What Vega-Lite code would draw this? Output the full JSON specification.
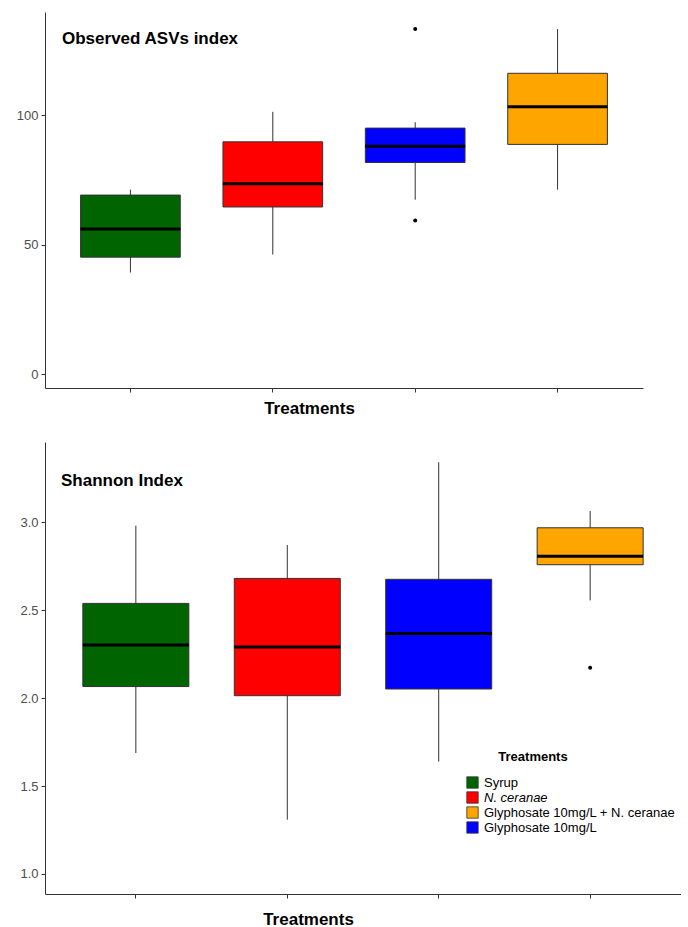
{
  "$schema": "https://vega.github.io/schema/vega-lite/v6.json",
  "padding": {"left": 16, "top": 12, "right": 0, "bottom": 0},
  "background": "white",
  "spacing": 26,
  "config": {
    "view": {"stroke": null},
    "font": "Liberation Sans",
    "axis": {
      "grid": false,
      "domainColor": "#333333",
      "tickColor": "#333333",
      "labelColor": "#4d4d4d",
      "labelFontSize": 13,
      "labelFont": "Liberation Sans",
      "tickSize": 4,
      "labelPadding": 3,
      "titleFont": "Liberation Sans",
      "titleFontSize": 17,
      "titleFontWeight": "bold",
      "titleColor": "#000000"
    }
  },
  "datasets": {
    "asv": [
      {"treatment": "Syrup", "lower": 39.3, "q1": 45.2, "median": 56.1, "q3": 69.2, "upper": 71.3},
      {"treatment": "N. ceranae", "lower": 46.2, "q1": 64.6, "median": 73.6, "q3": 89.8, "upper": 101.4},
      {"treatment": "Glyphosate 10mg/L", "lower": 67.4, "q1": 81.8, "median": 88.1, "q3": 95.1, "upper": 97.4},
      {"treatment": "Glyphosate 10mg/L + N. ceranae", "lower": 71.3, "q1": 88.8, "median": 103.4, "q3": 116.3, "upper": 133.4}
    ],
    "asvOut": [
      {"treatment": "Glyphosate 10mg/L", "value": 133.4},
      {"treatment": "Glyphosate 10mg/L", "value": 59.4}
    ],
    "shannon": [
      {"treatment": "Syrup", "lower": 1.688, "q1": 2.066, "median": 2.302, "q3": 2.539, "upper": 2.981},
      {"treatment": "N. ceranae", "lower": 1.309, "q1": 2.014, "median": 2.291, "q3": 2.681, "upper": 2.871},
      {"treatment": "Glyphosate 10mg/L", "lower": 1.639, "q1": 2.052, "median": 2.368, "q3": 2.676, "upper": 3.342},
      {"treatment": "Glyphosate 10mg/L + N. ceranae", "lower": 2.556, "q1": 2.759, "median": 2.807, "q3": 2.969, "upper": 3.065}
    ],
    "shannonOut": [
      {"treatment": "Glyphosate 10mg/L + N. ceranae", "value": 2.173}
    ]
  },
  "vconcat": [
    {
      "width": 598,
      "height": 376,
      "title": {"text": "Observed ASVs index", "anchor": "start", "frame": "group", "offset": -49, "baseline": "alphabetic", "dx": 17, "fontSize": 17, "fontWeight": "bold", "font": "Liberation Sans", "color": "#000000"},
      "layer": [
        {
          "data": {"name": "asv"},
          "mark": {"type": "rule", "color": "#333333", "strokeWidth": 1},
          "encoding": {
            "x": {"field": "treatment", "type": "nominal", "scale": {"type": "band", "paddingInner": 0.3, "paddingOuter": 0.25, "domain": ["Syrup", "N. ceranae", "Glyphosate 10mg/L", "Glyphosate 10mg/L + N. ceranae"]}, "axis": {"labels": false, "title": "Treatments", "titleX": 264, "titleY": 25, "titleAlign": "center", "titleBaseline": "alphabetic"}},
            "y": {"field": "lower", "type": "quantitative", "scale": {"domain": [-5.4, 140], "nice": false, "zero": false}, "axis": {"values": [0, 50, 100], "title": null}},
            "y2": {"field": "upper"}
          }
        },
        {
          "data": {"name": "asv"},
          "mark": {"type": "bar", "stroke": "#333333", "strokeWidth": 1, "opacity": 1},
          "encoding": {
            "x": {"field": "treatment", "type": "nominal"},
            "y": {"field": "q1", "type": "quantitative"},
            "y2": {"field": "q3"},
            "fill": {"field": "treatment", "type": "nominal", "scale": {"domain": ["Syrup", "N. ceranae", "Glyphosate 10mg/L + N. ceranae", "Glyphosate 10mg/L"], "range": ["#006400", "#FF0000", "#FFA500", "#0000FF"]}, "legend": null}
          }
        },
        {
          "data": {"name": "asv"},
          "mark": {"type": "tick", "color": "#000000", "thickness": 3, "size": 100, "opacity": 1},
          "encoding": {
            "x": {"field": "treatment", "type": "nominal"},
            "y": {"field": "median", "type": "quantitative"}
          }
        },
        {
          "data": {"name": "asvOut"},
          "mark": {"type": "circle", "color": "#000000", "size": 16, "opacity": 1},
          "encoding": {
            "x": {"field": "treatment", "type": "nominal"},
            "y": {"field": "value", "type": "quantitative"}
          }
        }
      ]
    },
    {
      "width": 636,
      "height": 452,
      "title": {"text": "Shannon Index", "anchor": "start", "frame": "group", "offset": -61, "baseline": "alphabetic", "dx": 16, "fontSize": 17, "fontWeight": "bold", "font": "Liberation Sans", "color": "#000000"},
      "layer": [
        {
          "data": {"name": "shannon"},
          "mark": {"type": "rule", "color": "#333333", "strokeWidth": 1},
          "encoding": {
            "x": {"field": "treatment", "type": "nominal", "scale": {"type": "band", "paddingInner": 0.3, "paddingOuter": 0.25, "domain": ["Syrup", "N. ceranae", "Glyphosate 10mg/L", "Glyphosate 10mg/L + N. ceranae"]}, "axis": {"labels": false, "title": "Treatments", "titleX": 263, "titleY": 30, "titleAlign": "center", "titleBaseline": "alphabetic"}},
            "y": {"field": "lower", "type": "quantitative", "scale": {"domain": [0.886, 3.457], "nice": false, "zero": false}, "axis": {"values": [1, 1.5, 2, 2.5, 3], "format": ".1f", "title": null}},
            "y2": {"field": "upper"}
          }
        },
        {
          "data": {"name": "shannon"},
          "mark": {"type": "bar", "stroke": "#333333", "strokeWidth": 1, "opacity": 1},
          "encoding": {
            "x": {"field": "treatment", "type": "nominal"},
            "y": {"field": "q1", "type": "quantitative"},
            "y2": {"field": "q3"},
            "fill": {
              "field": "treatment", "type": "nominal",
              "scale": {"domain": ["Syrup", "N. ceranae", "Glyphosate 10mg/L + N. ceranae", "Glyphosate 10mg/L"], "range": ["#006400", "#FF0000", "#FFA500", "#0000FF"]},
              "legend": {
                "orient": "none", "legendX": 421, "legendY": 309,
                "title": "Treatments", "titleFontSize": 13, "titleFontWeight": "bold", "titleFont": "Liberation Sans", "titleColor": "#000000",
                "titleAnchor": "middle", "titlePadding": 12,
                "labelFontSize": 13, "labelFont": "Liberation Sans", "labelColor": "#000000", "labelLimit": 300, "labelOffset": 5,
                "symbolType": "square", "symbolSize": 130, "symbolStrokeColor": "#333333", "symbolStrokeWidth": 0.8, "symbolOpacity": 1,
                "rowPadding": 0,
                "encode": {
                  "labels": {"update": {"fontStyle": {"signal": "datum.label == 'N. ceranae' ? 'italic' : 'normal'"}}},
                  "title": {"update": {"dx": {"value": -38}}}
                }
              }
            }
          }
        },
        {
          "data": {"name": "shannon"},
          "mark": {"type": "tick", "color": "#000000", "thickness": 3, "size": 106, "opacity": 1},
          "encoding": {
            "x": {"field": "treatment", "type": "nominal"},
            "y": {"field": "median", "type": "quantitative"}
          }
        },
        {
          "data": {"name": "shannonOut"},
          "mark": {"type": "circle", "color": "#000000", "size": 16, "opacity": 1},
          "encoding": {
            "x": {"field": "treatment", "type": "nominal"},
            "y": {"field": "value", "type": "quantitative"}
          }
        }
      ]
    }
  ],
  "resolve": {"scale": {"fill": "independent"}, "legend": {"fill": "independent"}}
}
